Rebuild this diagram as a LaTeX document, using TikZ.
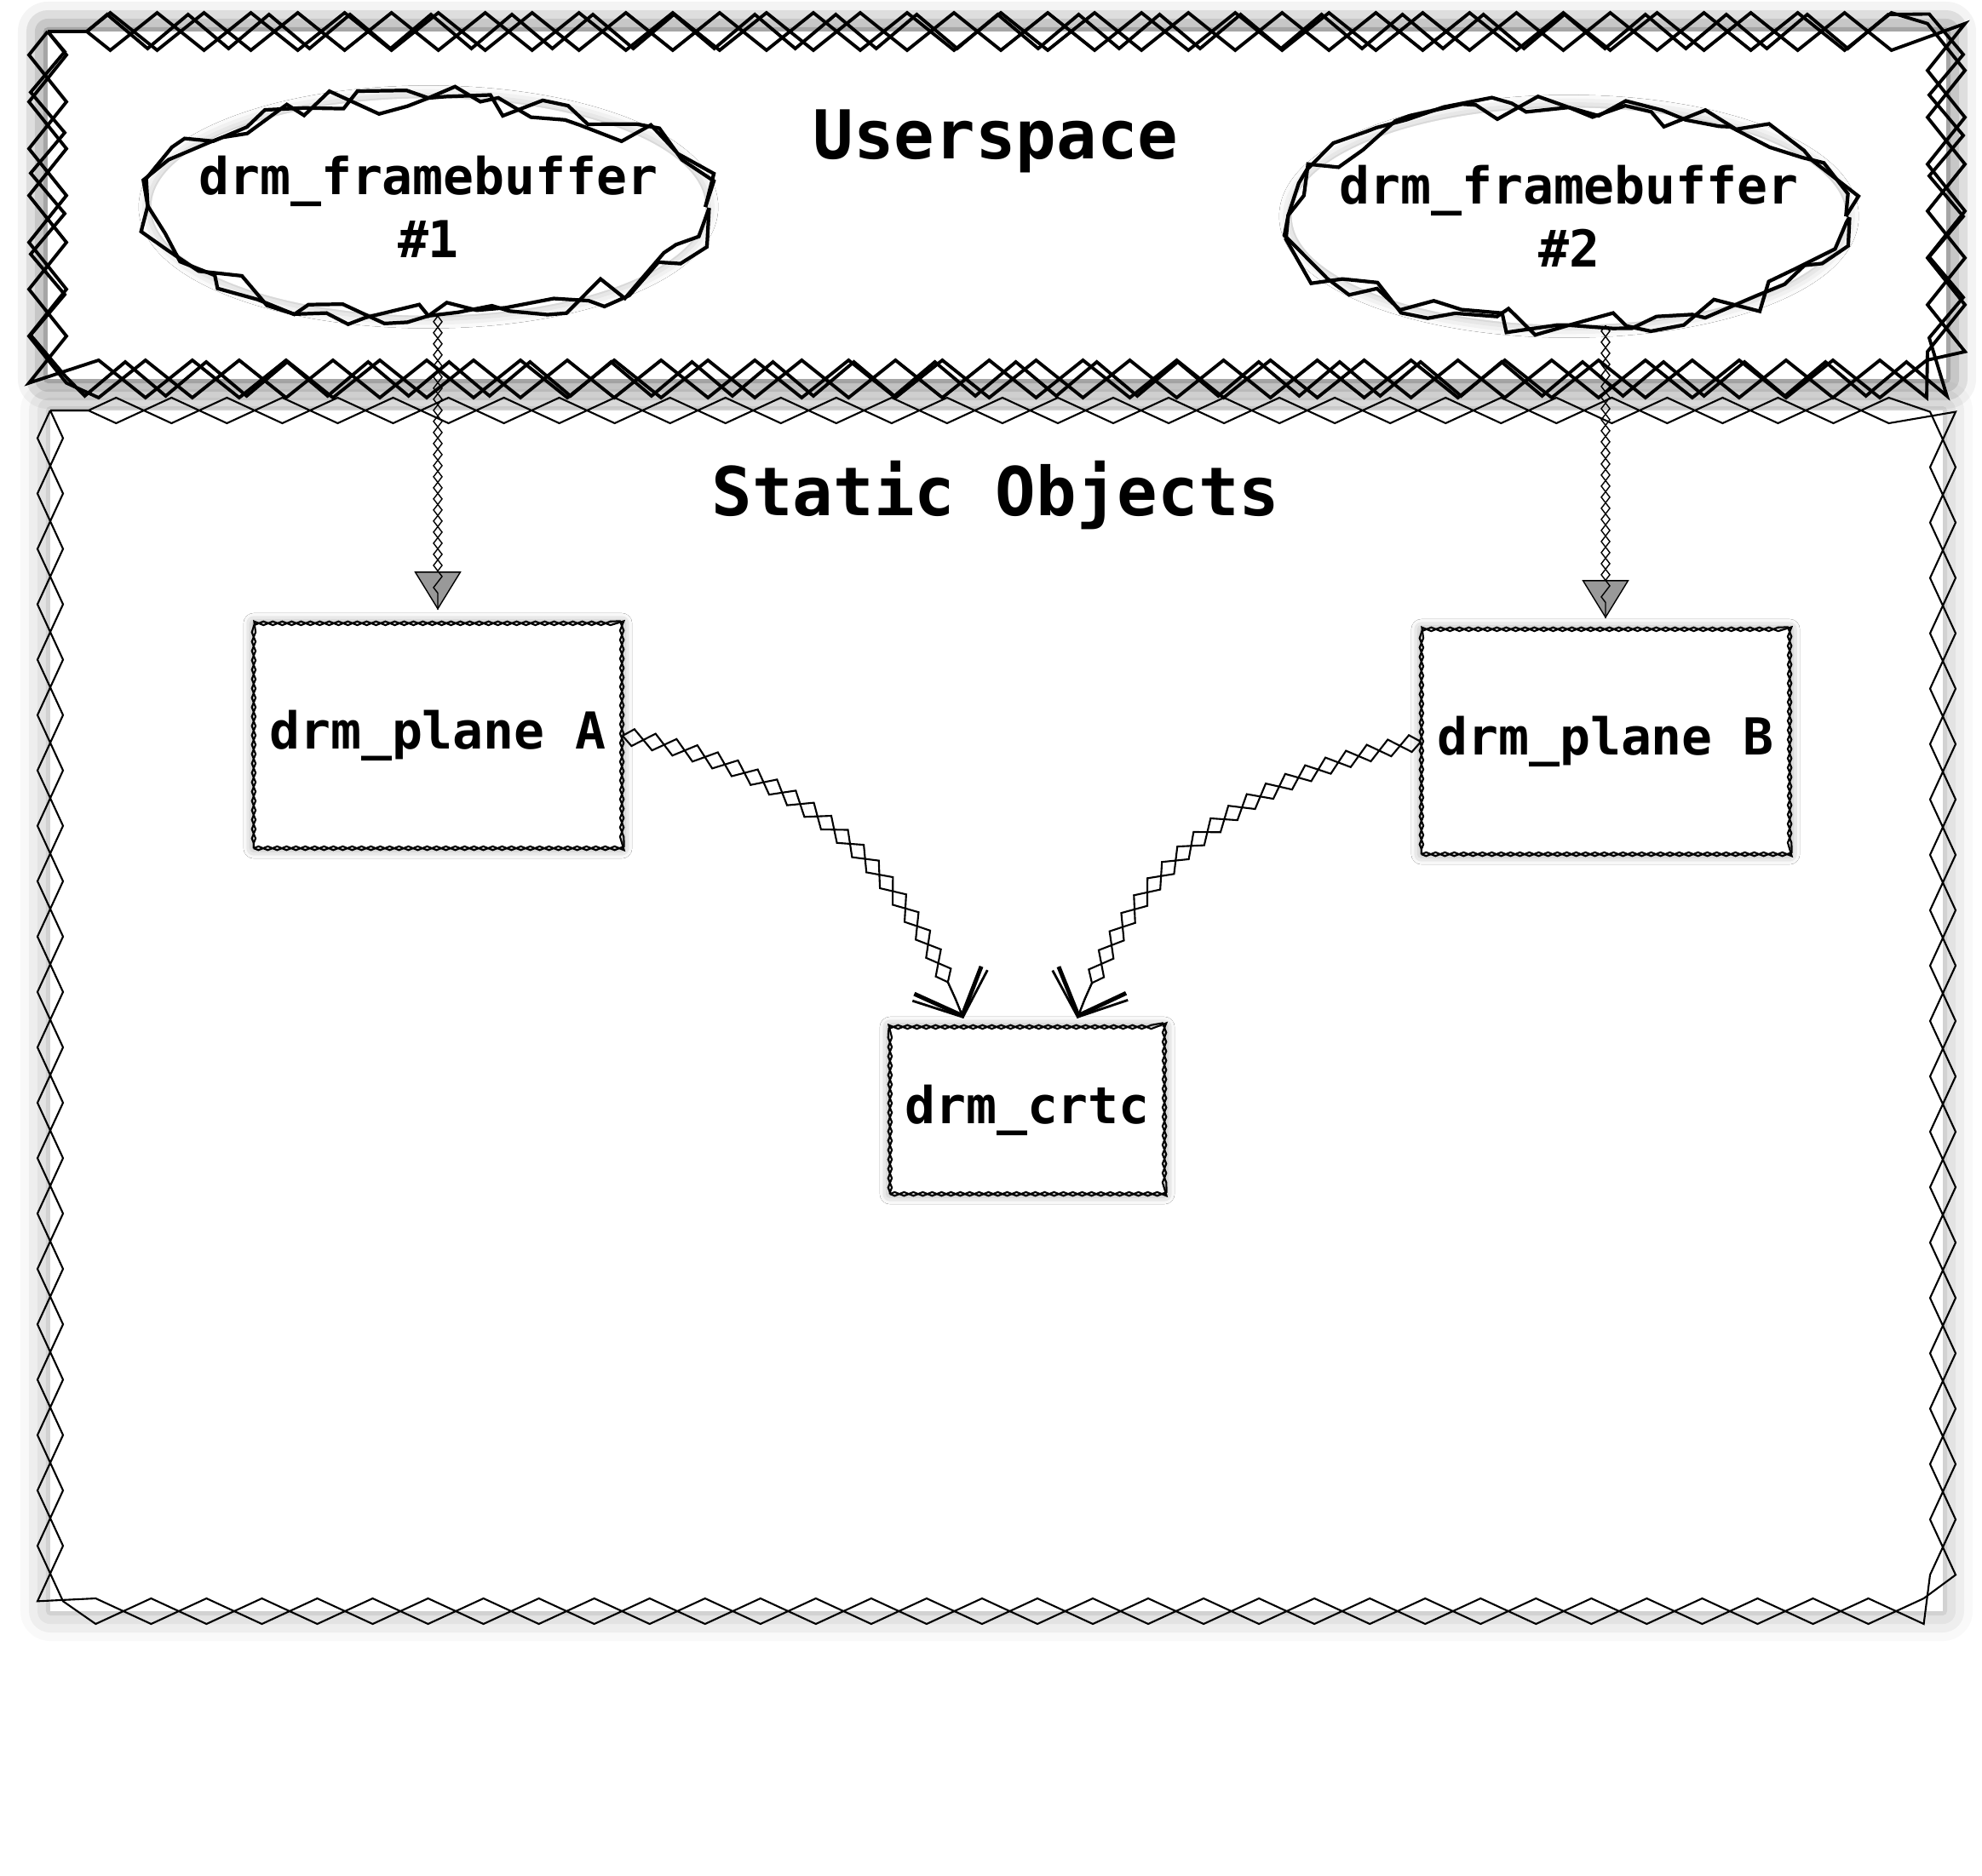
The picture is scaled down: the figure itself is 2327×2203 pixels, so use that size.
\documentclass[tikz,border=0pt]{standalone}
\usepackage{fontspec}
\setmonofont{DejaVu Sans Mono}
\usetikzlibrary{shapes.geometric,decorations.pathmorphing,shadows.blur,arrows.meta}

\tikzset{
  halo/.style 2 args={blur shadow={shadow xshift=0pt,shadow yshift=0pt,shadow blur radius=#1,shadow opacity=#2}},
  bigframe/.style={fill=white,halo={0.35cm}{70},
    postaction={draw,line width=1.1pt,decorate,decoration={zigzag,segment length=1.1cm,amplitude=0.22cm}},
    postaction={draw,line width=1.1pt,decorate,decoration={zigzag,mirror,segment length=1.1cm,amplitude=0.22cm}},
    postaction={draw,line width=1.1pt,decorate,decoration={zigzag,segment length=0.95cm,amplitude=0.2cm}}},
  thinframe/.style={fill=white,halo={0.35cm}{35},
    postaction={draw,line width=0.6pt,decorate,decoration={zigzag,segment length=1.3cm,amplitude=0.15cm}},
    postaction={draw,line width=0.6pt,decorate,decoration={zigzag,mirror,segment length=1.3cm,amplitude=0.15cm}}},
  fbuf/.style={ellipse,fill=white,halo={0.15cm}{30},inner sep=0pt,
    minimum width=6.5cm,minimum height=2.55cm,
    postaction={draw,line width=1.2pt,decorate,decoration={random steps,segment length=0.35cm,amplitude=0.17cm}},
    postaction={draw,line width=1.2pt,decorate,decoration={random steps,segment length=0.35cm,amplitude=0.17cm}},
    label={[align=center,font=\ttfamily\bfseries\fontsize{17pt}{21pt}\selectfont]center:#1}},
  objbox/.style={rectangle,fill=white,halo={0.12cm}{45},inner sep=0.15cm,
    font=\ttfamily\bfseries\fontsize{17pt}{21pt}\selectfont,
    postaction={draw,line width=0.6pt,decorate,decoration={zigzag,segment length=0.22cm,amplitude=0.022cm}},
    postaction={draw,line width=0.6pt,decorate,decoration={zigzag,mirror,segment length=0.22cm,amplitude=0.022cm}}},
  title/.style={anchor=base,font=\ttfamily\bfseries\fontsize{22.5pt}{27pt}\selectfont},
  feed/.style={
    postaction={draw,line width=0.4pt,-{Triangle[length=0.45cm,width=0.55cm,fill=black!40]},decorate,
      decoration={zigzag,segment length=0.26cm,amplitude=0.05cm,post length=0.3cm}},
    postaction={draw,line width=0.4pt,decorate,
      decoration={zigzag,mirror,segment length=0.26cm,amplitude=0.05cm,post length=0.3cm}}},
  bind/.style={
    postaction={draw,line width=0.6pt,-{Straight Barb[length=0.45cm,width=0.85cm,line width=1.4pt]},decorate,
      decoration={zigzag,segment length=0.5cm,amplitude=0.1cm,post length=0.35cm}},
    postaction={draw,line width=0.6pt,-{Straight Barb[length=0.4cm,width=0.95cm,line width=0.8pt]},decorate,
      decoration={zigzag,mirror,segment length=0.5cm,amplitude=0.1cm,post length=0.35cm}}}
}

\begin{document}
\begin{tikzpicture}[x=0.01cm,y=0.01cm]
	\pgfmathsetseed{42}
	\useasboundingbox (0,0) rectangle (2327,-2203);
	\path[bigframe] (56,-37) rectangle (2285,-445);
	\path[thinframe] (59,-482) rectangle (2281,-1892);
	\node[title] (user) at (1169,-186) {Userspace};
	\node[title] (static) at (1169,-605) {Static Objects};
	\node[fbuf={drm\_framebuffer\\\#1}] (fbA) at (503,-243) {};
	\node[fbuf={drm\_framebuffer\\\#2}] (fbB) at (1842,-254) {};
	\node[objbox,minimum width=4.32cm,minimum height=2.64cm] (planeA) at (514,-864) {drm\_plane A};
	\node[objbox,minimum width=4.32cm,minimum height=2.64cm] (planeB) at (1885,-871) {drm\_plane B};
	\node[objbox,minimum width=3.22cm,minimum height=1.96cm] (crtc) at (1206,-1304) {drm\_crtc};
	\path[feed,shorten >=0.15cm] (fbA.south -| planeA.north) -- (planeA.north);
	\path[feed,shorten >=0.12cm] (fbB.south -| planeB.north) -- (planeB.north);
	\path[bind,shorten >=0.1cm] (planeA.east) to[out=-10,in=111] ([xshift=-0.71cm]crtc.north);
	\path[bind,shorten >=0.1cm] (planeB.west) to[out=190,in=70] ([xshift=0.55cm]crtc.north);
\end{tikzpicture}
\end{document}
